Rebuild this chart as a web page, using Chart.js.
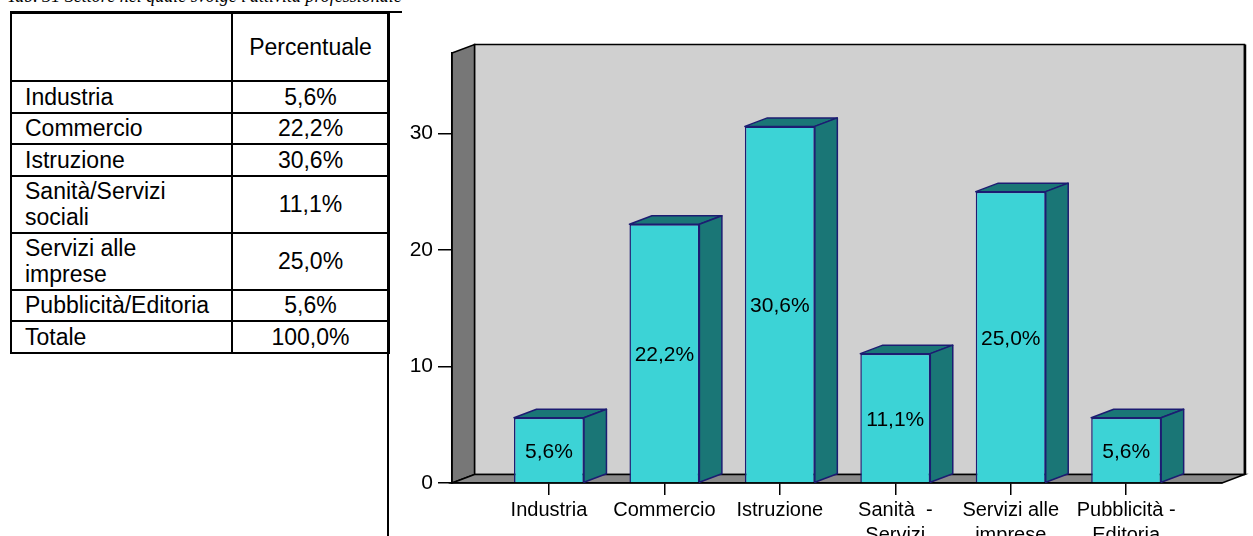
<!DOCTYPE html>
<html>
<head>
<meta charset="utf-8">
<script src="https://cdn.jsdelivr.net/npm/chart.js@4.4.1/dist/chart.umd.min.js"></script>
<style>
html, body { margin: 0; padding: 0; background: #fff; overflow: hidden; width: 1253px; height: 536px; }
body { position: relative; font-family: Arial, "Liberation Sans", sans-serif; }
#title { position: absolute; left: 7px; top: -14px; line-height: 20px; font: italic 18px "Liberation Serif", "Times New Roman", serif; white-space: nowrap; }
#topLine { position: absolute; left: 10px; top: 11px; width: 392px; height: 2px; background: #000; }
#sideLine { position: absolute; left: 387px; top: 11px; width: 2px; height: 540px; background: #000; }
#tab { position: absolute; left: 10px; top: 12px; width: 378px; border-collapse: collapse; table-layout: fixed; font-size: 23px; line-height: 26px; color: #000; }
#tab td { border: 2px solid #000; padding: 0 0 0 13px; vertical-align: middle; white-space: pre-line; }
#tab td.v { text-align: center; padding: 0; }
#tab tr.h { height: 68px; }
#tab tr.s { height: 31.5px; }
#tab tr.t { height: 57px; }
#chart { position: absolute; left: 390px; top: 0; }
</style>
</head>
<body>
<div id="title">Tab. 31 Settore nel quale svolge l'attività professionale</div>
<table id="tab">
  <colgroup><col style="width:221px"><col style="width:157px"></colgroup>
  <tbody id="tabBody"></tbody>
</table>
<div id="topLine"></div>
<div id="sideLine"></div>
<canvas id="chart" width="863" height="600"></canvas>
<script>
// table / chart data
const categories = ['Industria', 'Commercio', 'Istruzione', 'Sanità/Servizi\nsociali', 'Servizi alle\nimprese', 'Pubblicità/Editoria'];
const axisLabels = [['Industria'], ['Commercio'], ['Istruzione'], ['Sanità  -', 'Servizi', 'sociali'], ['Servizi alle', 'imprese'], ['Pubblicità -', 'Editoria']];
const percentages = [5.6, 22.2, 30.6, 11.1, 25.0, 5.6];
const totalLabel = 'Totale';
const totalValue = 100.0;
const yTicks = [0, 10, 20, 30];

const fmt = v => v.toFixed(1).replace('.', ',') + '%';

// build the table
const body = document.getElementById('tabBody');
function addRow(cls, a, b) {
    const tr = document.createElement('tr');
    tr.className = cls;
    const c1 = document.createElement('td');
    c1.textContent = a;
    const c2 = document.createElement('td');
    c2.className = 'v';
    c2.textContent = b;
    tr.appendChild(c1);
    tr.appendChild(c2);
    body.appendChild(tr);
}
addRow('h', '', 'Percentuale');
categories.forEach((c, i) => addRow(c.includes('\n') ? 't' : 's', c, fmt(percentages[i])));
addRow('s', totalLabel, fmt(totalValue));

// 3D look
const DX = 22.5, DY = 8.5;
const FONT = 'Arial, "Liberation Sans", sans-serif';

const wallsPlugin = {
    id: 'walls',
    beforeDraw(chart) {
        const { ctx, chartArea: a } = chart;
        ctx.save();
        ctx.lineWidth = 1.5;
        ctx.strokeStyle = '#000';
        // back wall
        ctx.fillStyle = '#d0d0d0';
        ctx.fillRect(a.left + DX, a.top - DY, a.right - a.left, a.bottom - a.top);
        ctx.strokeRect(a.left + DX, a.top - DY, a.right - a.left, a.bottom - a.top);
        ctx.lineWidth = 2.5;
        ctx.beginPath();
        ctx.moveTo(a.right + DX + 0.5, a.top - DY);
        ctx.lineTo(a.right + DX + 0.5, a.bottom - DY);
        ctx.stroke();
        ctx.lineWidth = 1.5;
        // left wall
        ctx.fillStyle = '#777777';
        ctx.beginPath();
        ctx.moveTo(a.left, a.top);
        ctx.lineTo(a.left + DX, a.top - DY);
        ctx.lineTo(a.left + DX, a.bottom - DY);
        ctx.lineTo(a.left, a.bottom);
        ctx.closePath();
        ctx.fill();
        ctx.stroke();
        // floor
        ctx.fillStyle = '#8a8a8a';
        ctx.beginPath();
        ctx.moveTo(a.left, a.bottom);
        ctx.lineTo(a.left + DX, a.bottom - DY);
        ctx.lineTo(a.right + DX, a.bottom - DY);
        ctx.lineTo(a.right, a.bottom);
        ctx.closePath();
        ctx.fill();
        ctx.stroke();
        ctx.restore();
    },
    beforeDatasetsDraw(chart) {
        const { ctx } = chart;
        const meta = chart.getDatasetMeta(0);
        ctx.save();
        ctx.lineWidth = 1.5;
        ctx.strokeStyle = '#1c1c72';
        ctx.lineJoin = 'round';
        ctx.fillStyle = '#1a7676';
        meta.data.forEach(bar => {
            const { x, y, base, width } = bar.getProps(['x', 'y', 'base', 'width'], true);
            const l = x - width / 2, r = x + width / 2;
            // top face
            ctx.beginPath();
            ctx.moveTo(l, y);
            ctx.lineTo(l + DX, y - DY);
            ctx.lineTo(r + DX, y - DY);
            ctx.lineTo(r, y);
            ctx.closePath();
            ctx.fill();
            ctx.stroke();
            // side face
            ctx.beginPath();
            ctx.moveTo(r, y);
            ctx.lineTo(r + DX, y - DY);
            ctx.lineTo(r + DX, base - DY);
            ctx.lineTo(r, base);
            ctx.closePath();
            ctx.fill();
            ctx.stroke();
        });
        ctx.restore();
    },
    afterDatasetsDraw(chart) {
        const { ctx } = chart;
        const meta = chart.getDatasetMeta(0);
        ctx.save();
        ctx.font = '21px ' + FONT;
        ctx.fillStyle = '#000';
        ctx.textAlign = 'center';
        ctx.textBaseline = 'middle';
        meta.data.forEach((bar, i) => {
            const { x, y, base } = bar.getProps(['x', 'y', 'base'], true);
            ctx.fillText(fmt(percentages[i]), x, (y + base) / 2 + 2);
        });
        ctx.restore();
    }
};

new Chart(document.getElementById('chart').getContext('2d'), {
    type: 'bar',
    data: {
        datasets: [{
            data: percentages.map((v, i) => ({ x: i, y: v })),
            backgroundColor: '#3cd3d6',
            borderColor: '#1c1c72',
            borderWidth: 1.5,
            categoryPercentage: 1,
            barPercentage: 0.606
        }]
    },
    options: {
        responsive: false,
        animation: false,
        layout: { padding: { top: 53, right: 31, left: 0, bottom: 0 } },
        plugins: {
            legend: { display: false },
            tooltip: { enabled: false }
        },
        scales: {
            x: {
                type: 'linear',
                offset: false,
                min: -0.84,
                max: 5.83,
                afterBuildTicks: s => { s.ticks = axisLabels.map((l, i) => ({ value: i })); },
                afterFit: s => { s.height = 117; },
                grid: { drawOnChartArea: false, offset: false, tickLength: 12, color: '#000', lineWidth: 1.5 },
                border: { color: '#000', width: 1.5 },
                ticks: {
                    callback: v => axisLabels[v] || '',
                    color: '#000',
                    padding: 3,
                    maxRotation: 0,
                    autoSkip: false,
                    font: { family: FONT, size: 20, lineHeight: 1.25 }
                }
            },
            y: {
                min: 0,
                max: 36.9,
                afterBuildTicks: s => { s.ticks = yTicks.map(v => ({ value: v })); },
                afterFit: s => { s.width = 62; },
                grid: { drawOnChartArea: false, tickLength: 14, color: '#000', lineWidth: 1.5 },
                border: { color: '#000', width: 1.5 },
                ticks: {
                    color: '#000',
                    padding: 5,
                    font: { family: FONT, size: 21 }
                }
            }
        }
    },
    plugins: [wallsPlugin]
});
</script>
</body>
</html>
